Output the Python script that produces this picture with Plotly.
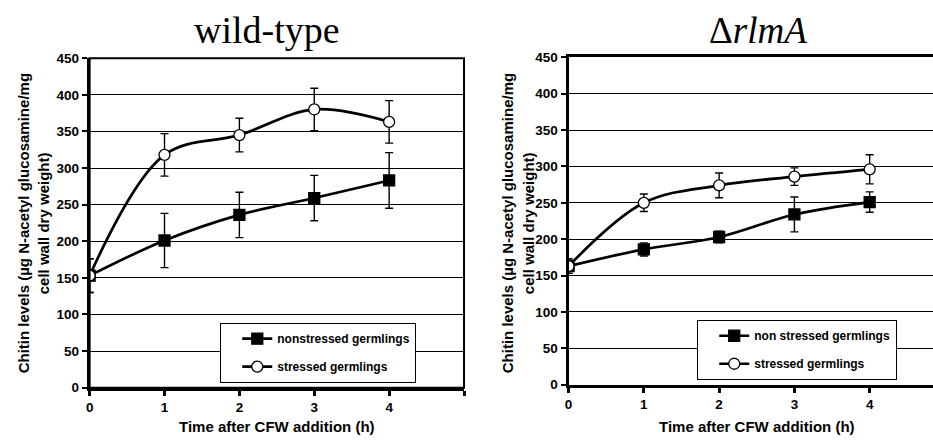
import plotly.graph_objects as go

# ---------------- data ----------------
time_h = [0, 1, 2, 3, 4]
x_tick_vals = [0, 1, 2, 3, 4, 5]
x_tick_text = ["0", "1", "2", "3", "4", ""]
y_tick_vals = [0, 50, 100, 150, 200, 250, 300, 350, 400, 450]

# wild-type
wt_nonstressed = [153, 201, 236, 259, 283]
wt_nonstressed_err = [23, 37, 31, 31, 38]
wt_stressed = [153, 318, 345, 380, 363]
wt_stressed_err = [23, 29, 23, 29, 29]

# delta rlmA
rlm_nonstressed = [163, 186, 203, 234, 251]
rlm_nonstressed_err = [10, 9, 8, 24, 14]
rlm_stressed = [163, 250, 274, 286, 296]
rlm_stressed_err = [10, 12, 17, 12, 20]

W, H = 933, 443
SANS = "Liberation Sans, Arial, sans-serif"
SERIF = "Liberation Serif, Times New Roman, serif"


def b(s):
    return "<b>" + s + "</b>" if s else s


def px_x(p):
    return p / W


def px_y(p):
    return 1 - p / H


fig = go.Figure()


def add_series(x, y, err, name, filled, xa, ya, legend, group):
    fig.add_trace(go.Scatter(
        x=x, y=y, name=b(name), mode="lines+markers",
        line=dict(color="black", width=2.7, shape="spline"),
        marker=dict(symbol="square" if filled else "circle", size=11,
                    color="black" if filled else "white",
                    line=dict(color="black", width=1.3)),
        error_y=dict(type="data", array=err, visible=True, color="black",
                     thickness=1.4, width=4),
        xaxis=xa, yaxis=ya, legend=legend, legendgroup=group,
    ))


add_series(time_h, wt_nonstressed, wt_nonstressed_err, "nonstressed germlings",
           True, "x", "y", "legend", "a")
add_series(time_h, wt_stressed, wt_stressed_err, "stressed germlings",
           False, "x", "y", "legend", "b")
add_series(time_h, rlm_nonstressed, rlm_nonstressed_err, "non stressed germlings",
           True, "x2", "y2", "legend2", "c")
add_series(time_h, rlm_stressed, rlm_stressed_err, "stressed germlings",
           False, "x2", "y2", "legend2", "d")

tickfont = dict(family=SANS, size=13.5, color="black")

xcommon = dict(showgrid=False, zeroline=False, showline=True, linecolor="black", linewidth=3,
               ticks="outside", ticklen=5, tickwidth=2.5, tickcolor="black", tickfont=tickfont)
ycommon = dict(range=[0, 450], tickvals=y_tick_vals, ticktext=[b(str(v)) for v in y_tick_vals],
               showgrid=True, gridcolor="black", gridwidth=1.3,
               zeroline=False, showline=True, linecolor="black", linewidth=3,
               ticks="outside", ticklen=5, tickwidth=2, tickcolor="black", tickfont=tickfont)

legend_common = dict(bgcolor="white", bordercolor="black", borderwidth=1.2,
                     font=dict(family=SANS, size=12, color="black"),
                     traceorder="grouped", tracegroupgap=9, indentation=16,
                     xanchor="left", yanchor="top", itemsizing="trace")

fig.update_layout(
    width=W, height=H,
    margin=dict(l=0, r=0, t=0, b=0),
    paper_bgcolor="white", plot_bgcolor="white",
    showlegend=True,
    xaxis=dict(domain=[px_x(86), px_x(462)], range=[0, 5], tickvals=x_tick_vals,
               ticktext=[b(t) for t in x_tick_text], anchor="y", **xcommon),
    yaxis=dict(domain=[px_y(394), px_y(53)], anchor="x", **ycommon),
    xaxis2=dict(domain=[px_x(567), 1.0], range=[0, (W - 567) / 75.6], tickvals=time_h,
                ticktext=[b(str(t)) for t in time_h], anchor="y2", mirror=True, **xcommon),
    yaxis2=dict(domain=[px_y(391), px_y(52)], anchor="x2", **ycommon),
    legend=dict(x=px_x(217), y=px_y(327), **legend_common),
    legend2=dict(x=px_x(696), y=px_y(324), **legend_common),
)

# thin frame on the top / right of the wild-type panel
fig.add_shape(type="rect", xref="x domain", yref="y domain", x0=0, x1=1, y0=0, y1=1,
              line=dict(color="black", width=2), layer="above")

# panel titles
fig.add_annotation(text="wild-type", xref="paper", yref="paper", x=px_x(264), y=px_y(24),
                   showarrow=False, xanchor="center", yanchor="middle",
                   font=dict(family=SERIF, size=38, color="black"))
fig.add_annotation(text="\u0394<i>rlmA</i>", xref="paper", yref="paper", x=px_x(757), y=px_y(24),
                   showarrow=False, xanchor="center", yanchor="middle",
                   font=dict(family=SERIF, size=37, color="black"))

# x-axis titles
for xr in ("x", "x2"):
    fig.add_annotation(text=b("Time after CFW addition (h)"), xref=xr, yref="paper", x=2.5,
                       y=px_y(434), showarrow=False, xanchor="center", yanchor="middle",
                       font=dict(family=SANS, size=15, color="black"))

# y-axis titles (two lines each)
ytitle1 = "Chitin levels (\u00b5g N-acetyl glucosamine/mg"
ytitle2 = "cell wall dry weight)"
for xl1, xl2 in ((19, 40), (506, 527)):
    fig.add_annotation(text=b(ytitle1), xref="paper", yref="paper", x=px_x(xl1), y=px_y(224),
                       showarrow=False, textangle=-90, xanchor="center", yanchor="middle",
                       font=dict(family=SANS, size=15, color="black"))
    fig.add_annotation(text=b(ytitle2), xref="paper", yref="paper", x=px_x(xl2), y=px_y(224),
                       showarrow=False, textangle=-90, xanchor="center", yanchor="middle",
                       font=dict(family=SANS, size=15, color="black"))

fig.write_html("out.html")
